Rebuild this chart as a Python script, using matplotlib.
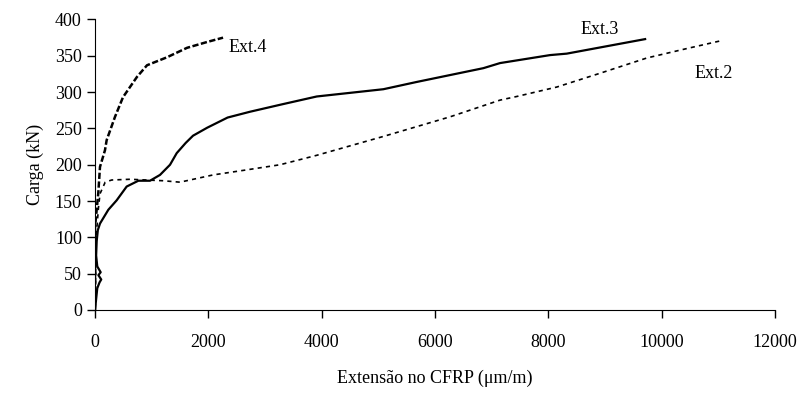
import matplotlib
matplotlib.use("Agg")
from matplotlib import pyplot as plt

# Ext.2 (tracejado fino)
ext2_x = [0, 10, 20, 60, 88, 180, 294, 618, 912, 1200, 1500, 2085, 2680, 3265, 3913,
          5089, 6266, 7148, 7443, 8149, 8913, 9738, 10444, 11061]
ext2_y = [0, 50, 100, 140, 160, 176, 179, 180, 179, 178, 176, 186, 193, 200, 213,
          239, 266, 289, 294, 307, 326, 347, 360, 371]

# Ext.3 (linha continua)
ext3_x = [0, 20, 40, 80, 110, 60, 100, 40, 20, 30, 50, 88, 235, 382, 559, 765, 971,
          1147, 1324, 1442, 1600, 1730, 1980, 2340, 2736, 3290, 3913, 5089, 5677,
          6854, 7148, 8031, 8325, 9708]
ext3_y = [0, 15, 30, 38, 42, 48, 52, 60, 75, 95, 110, 119, 138, 151, 170, 178, 178,
          186, 200, 216, 230, 240, 251, 265, 273, 283, 294, 304, 314,
          333, 340, 351, 353, 373]

# Ext.4 (tracejado grosso)
ext4_x = [0, 5, 0, 58, 88, 176, 206, 353, 494, 741, 918, 1271, 1624, 1977, 2260]
ext4_y = [0, 50, 114, 161, 197, 220, 234, 266, 293, 321, 337, 348, 361, 369, 375]

plt.rcParams['font.family'] = ['Liberation Serif', 'DejaVu Serif']

fig = plt.figure(figsize=(8.05, 3.99), dpi=100)
ax = fig.add_axes([95 / 805, 1 - 310 / 399, 680 / 805, 290.5 / 399])

ax.plot(ext2_x, ext2_y, c='black', lw=1.2, ls=(0, (2.5, 2.5)))
ax.plot(ext3_x, ext3_y, c='black', lw=1.6)
ax.plot(ext4_x, ext4_y, c='black', lw=1.8, ls=(0, (2.5, 1)))

ax.text(2700, 362, 'Ext.4', fontsize=13, ha='center', va='center')
ax.text(8900, 386, 'Ext.3', fontsize=13, ha='center', va='center')
ax.text(10920, 326, 'Ext.2', fontsize=13, ha='center', va='center')

ax.set_xlim(0, 12000)
ax.set_ylim(0, 400)
ax.set_xticks(range(0, 12001, 2000))
ax.set_yticks(range(0, 401, 50))
for s in ['top', 'right']:
    ax.spines[s].set_visible(False)
ax.tick_params(axis='both', which='major', labelsize=13, length=6, width=1, direction='out')
ax.tick_params(axis='x', pad=11)

ax.set_xlabel('Extensão no CFRP (μm/m)', fontsize=13, labelpad=14)
ax.set_ylabel('Carga (kN)', fontsize=13, labelpad=8)

plt.savefig('out.png', dpi=100)
